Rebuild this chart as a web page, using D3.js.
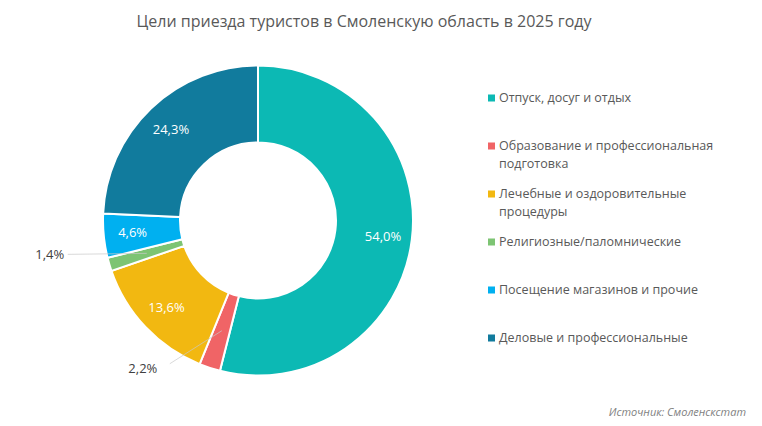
<!DOCTYPE html>
<html>
<head>
<meta charset="utf-8">
<script src="https://cdn.jsdelivr.net/npm/d3@7"></script>
<style>
  body { margin:0; background:#fff; font-family:"Open Sans", "Noto Sans", sans-serif; }
</style>
</head>
<body>
<div id="chart"></div>
<script>
// data
const categories = [
  "Отпуск, досуг и отдых",
  "Образование и профессиональная|подготовка",
  "Лечебные и оздоровительные|процедуры",
  "Религиозные/паломнические",
  "Посещение магазинов и прочие",
  "Деловые и профессиональные"
];
const values = [54.0, 2.2, 13.6, 1.4, 4.6, 24.3];
const colors = ["#0cb9b4", "#f06466", "#f2b811", "#7dc473", "#00b0f0", "#117b9d"];
const outside = [false, true, false, true, false, false];
const title = "Цели приезда туристов в Смоленскую область в 2025 году";
const source = "Источник: Смоленскстат";

function render() {
  const W = 762, H = 426;
  const svg = d3.select("#chart").append("svg").attr("width", W).attr("height", H);

  svg.append("text").attr("x", 364).attr("y", 27).attr("text-anchor", "middle")
    .attr("fill", "#595959").style("font-size", "16px").text(title);

  const cx = 258, cy = 220.5, rOut = 155, rIn = 78;
  const g = svg.append("g").attr("transform", `translate(${cx},${cy})`);

  const data = categories.map((c, i) => ({name: c, value: values[i], color: colors[i], out: outside[i]}));
  const pie = d3.pie().value(d => d.value).sort(null);
  const arc = d3.arc().innerRadius(rIn).outerRadius(rOut);
  const arcs = pie(data);

  g.selectAll("path").data(arcs).join("path")
    .attr("d", arc).attr("fill", d => d.data.color)
    .attr("stroke", "#fff").attr("stroke-width", 2);

  const fmt = v => v.toFixed(1).replace(".", ",") + "%";
  const labelArc = d3.arc().innerRadius(126).outerRadius(126);
  const leaderArc = d3.arc().innerRadius(116).outerRadius(116);

  // inside labels
  g.selectAll("text.in").data(arcs.filter(d => !d.data.out)).join("text")
    .attr("class", "in")
    .attr("transform", d => `translate(${labelArc.centroid(d)})`)
    .attr("text-anchor", "middle").attr("dy", "0.35em")
    .attr("fill", "#fff").style("font-size", "13px")
    .text(d => fmt(d.data.value));

  // outside labels with leader lines (offset of label from leader end)
  const offs = {1: [-77, 38], 3: [-97, 1]};
  const outs = arcs.map((d, i) => ({d, i})).filter(o => o.d.data.out);
  outs.forEach(o => {
    const [ex, ey] = leaderArc.centroid(o.d);
    const [ox, oy] = offs[o.i];
    const lx = ex + ox, ly = ey + oy;
    const startX = o.i === 1 ? lx + 25 : lx + 18;
    const startY = o.i === 1 ? ly - 5 : ly;
    g.append("line").attr("x1", startX).attr("y1", startY).attr("x2", ex).attr("y2", ey)
      .attr("stroke", "#c8c8c8").attr("stroke-width", 0.7);
    g.append("text").attr("x", lx - (o.i === 1 ? 2 : 0)).attr("y", ly).attr("dy", "0.35em")
      .attr("text-anchor", "middle").attr("fill", "#404040").style("font-size", "13px")
      .text(fmt(o.d.data.value));
  });

  // legend
  const leg = svg.append("g").attr("transform", "translate(488,98)");
  const rowY = d3.scalePoint().domain(d3.range(categories.length)).range([0, 240]);
  const items = leg.selectAll("g").data(data).join("g")
    .attr("transform", (d, i) => `translate(0,${rowY(i)})`);
  items.append("rect").attr("x", 0).attr("y", -3.5).attr("width", 7).attr("height", 7)
    .attr("fill", d => d.color);
  items.append("text").attr("x", 11).attr("y", 0)
    .attr("fill", "#595959").style("font-size", "12.5px")
    .each(function(d) {
      const lines = d.name.split("|");
      const t = d3.select(this);
      lines.forEach((l, k) => t.append("tspan").attr("x", 11).attr("dy", k === 0 ? "0.35em" : "17.5").text(l));
    });

  svg.append("text").attr("x", 746).attr("y", 416).attr("text-anchor", "end")
    .attr("fill", "#7f7f7f").style("font-size", "11px").style("font-style", "italic")
    .text(source);
}
render();
</script>
</body>
</html>
